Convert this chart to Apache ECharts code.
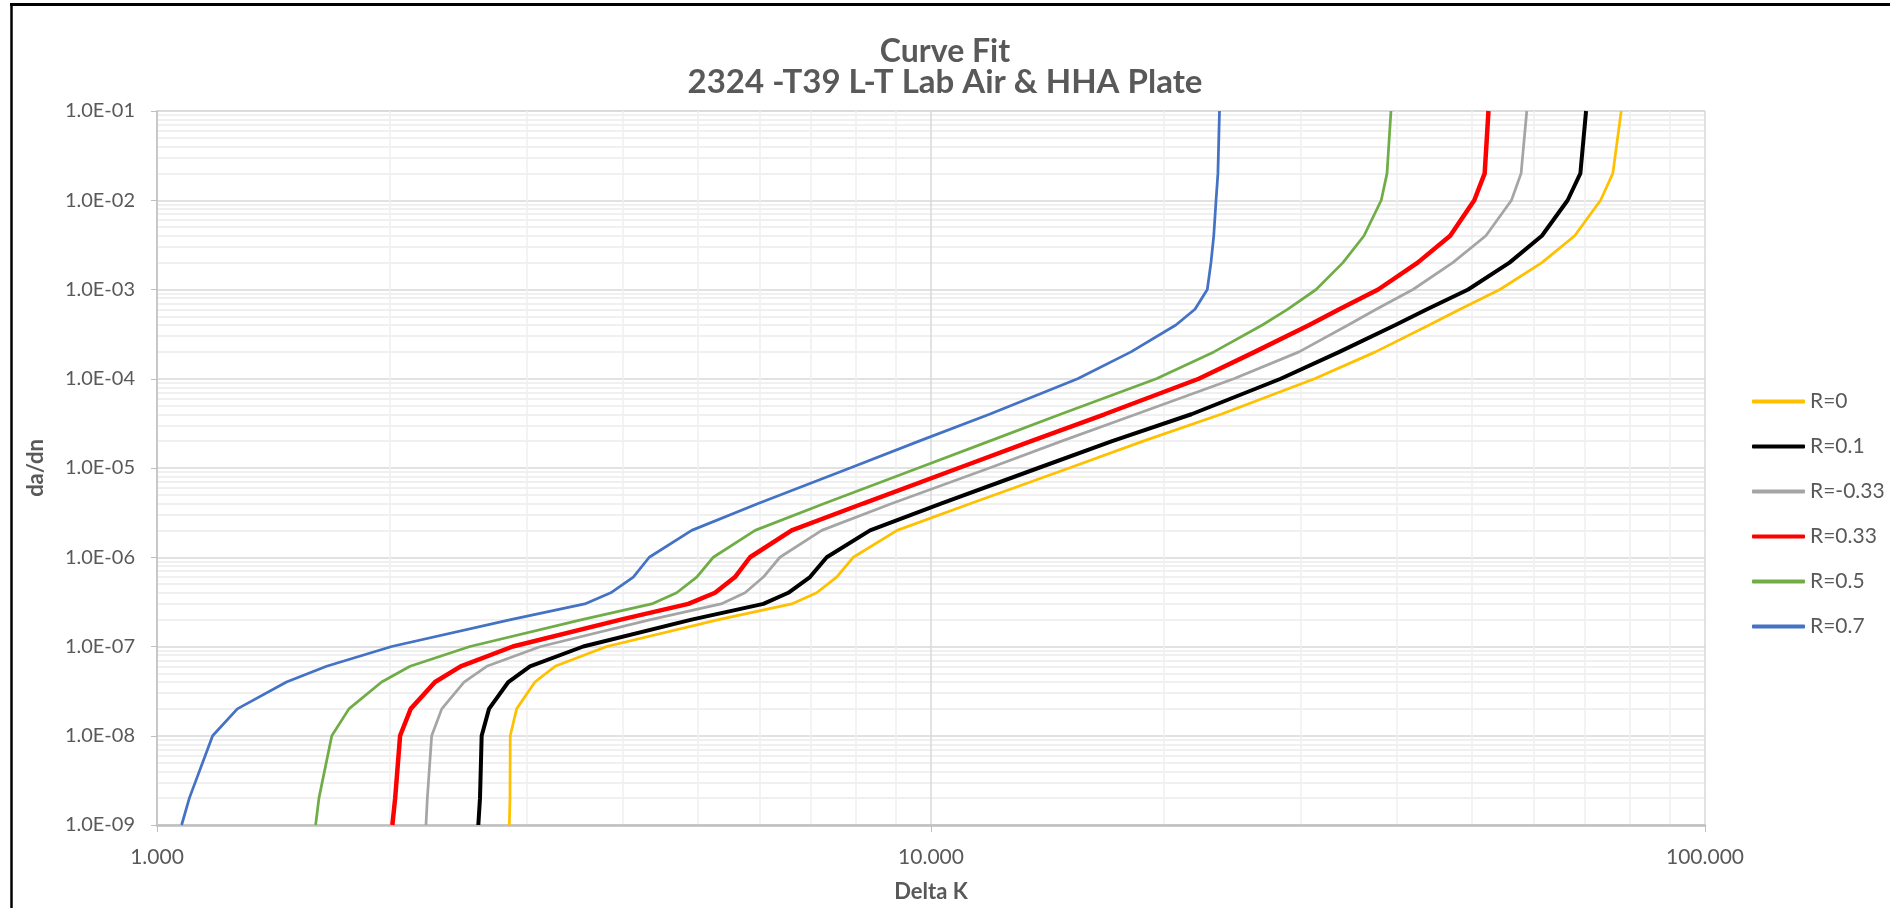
<!DOCTYPE html>
<html>
<head>
<meta charset="utf-8">
<script src="https://cdn.jsdelivr.net/npm/echarts@6/dist/echarts.min.js"></script>
<style>
html,body{margin:0;padding:0;background:#fff;}
#chart{width:1890px;height:908px;}
</style>
</head>
<body>
<div id="chart"></div>
<script>
// da/dn levels (y) shared by every curve
const dadn = [1e-9, 2e-9, 1e-8, 2e-8, 4e-8, 6e-8, 1e-7, 2e-7, 3e-7, 4e-7, 6e-7, 1e-6, 2e-6, 4e-6, 1e-5, 2e-5, 4e-5, 1e-4, 2e-4, 4e-4, 6e-4, 1e-3, 2e-3, 4e-3, 1e-2, 2e-2, 1e-1];

// Delta K values (x) for each R ratio
const dkR0    = [2.852, 2.858, 2.86, 2.915, 3.078, 3.268, 3.811, 5.316, 6.607, 7.117, 7.552, 7.937, 9.04, 11.25, 15.09, 18.8, 23.7, 31.3, 37.52, 44.02, 48.25, 54.33, 61.56, 67.86, 73.3, 76.02, 77.94];
const dkR01   = [2.601, 2.614, 2.627, 2.685, 2.844, 3.033, 3.554, 4.905, 6.073, 6.541, 6.977, 7.333, 8.342, 10.3, 13.76, 17.14, 21.7, 28.3, 33.7, 39.81, 43.74, 49.44, 55.9, 61.56, 66.46, 69.02, 70.2];
const dkRm033 = [2.226, 2.235, 2.264, 2.333, 2.493, 2.667, 3.131, 4.343, 5.355, 5.751, 6.073, 6.38, 7.224, 8.9, 11.9, 14.75, 18.4, 24.62, 29.89, 34.59, 37.61, 41.95, 47.22, 52.11, 56.23, 57.86, 58.85];
const dkR033  = [2.014, 2.031, 2.061, 2.127, 2.287, 2.468, 2.882, 3.973, 4.858, 5.26, 5.582, 5.837, 6.607, 8.17, 10.86, 13.47, 16.76, 22.18, 26.2, 30.81, 33.69, 37.82, 42.54, 46.86, 50.34, 51.92, 52.51];
const dkR05   = [1.603, 1.619, 1.682, 1.77, 1.951, 2.123, 2.537, 3.54, 4.357, 4.693, 4.981, 5.233, 5.926, 7.28, 9.63, 11.9, 14.7, 19.55, 23.2, 26.8, 28.88, 31.45, 34.06, 36.26, 38.17, 38.83, 39.29];
const dkR07   = [1.076, 1.101, 1.18, 1.27, 1.47, 1.656, 2.01, 2.864, 3.57, 3.857, 4.125, 4.325, 4.907, 5.98, 7.86, 9.65, 11.9, 15.47, 18.13, 20.72, 21.93, 22.75, 23.0, 23.19, 23.35, 23.48, 23.59];

const seriesNames = ['R=0', 'R=0.1', 'R=-0.33', 'R=0.33', 'R=0.5', 'R=0.7'];
const seriesData = [dkR0, dkR01, dkRm033, dkR033, dkR05, dkR07];
const seriesColors = ['#FFC000', '#000000', '#A5A5A5', '#FF0000', '#70AD47', '#4472C4'];
const seriesWidths = [2.75, 4, 2.75, 4.5, 2.75, 2.75];

const titleText = 'Curve Fit';
const subTitleText = '2324 -T39 L-T Lab Air & HHA Plate';
const xName = 'Delta K';
const yName = 'da/dn';

const FONT = 'Lato, "Open Sans", sans-serif';
const GREY = '#595959';

function fmtY(v) {
  const e = Math.round(Math.log10(v));
  const m = v / Math.pow(10, e);
  const sign = e < 0 ? '-' : '+';
  const ae = Math.abs(e);
  return m.toFixed(1) + 'E' + sign + (ae < 10 ? '0' + ae : '' + ae);
}

const series = seriesNames.map((name, i) => ({
  name: name,
  type: 'line',
  symbol: 'none',
  showSymbol: false,
  z: 3,
  lineStyle: { color: seriesColors[i], width: seriesWidths[i] },
  itemStyle: { color: seriesColors[i] },
  data: seriesData[i].map((x, j) => [x, dadn[j]])
}));

const chart = echarts.init(document.getElementById('chart'), null, { renderer: 'canvas' });
chart.setOption({
  animation: false,
  backgroundColor: '#ffffff',
  textStyle: { fontFamily: FONT },
  title: [
    { text: titleText, left: 'center', top: 31, textStyle: { fontFamily: FONT, fontSize: 32, fontWeight: 'bold', color: GREY } },
    { text: subTitleText, left: 'center', top: 61, textStyle: { fontFamily: FONT, fontSize: 33, fontWeight: 'bold', color: GREY } }
  ],
  graphic: [
    { type: 'line', shape: { x1: 10, y1: 4.5, x2: 1890, y2: 4.5 }, style: { stroke: '#000', lineWidth: 3 }, silent: true },
    { type: 'line', shape: { x1: 11.5, y1: 3, x2: 11.5, y2: 908 }, style: { stroke: '#000', lineWidth: 2.5 }, silent: true }
  ],
  legend: {
    data: seriesNames.map(n => ({ name: n, icon: 'roundRect' })),
    orient: 'vertical',
    left: 1747,
    top: 386,
    itemWidth: 53,
    itemHeight: 4,
    itemGap: 24,
    textStyle: { fontFamily: FONT, fontSize: 21, color: GREY }
  },
  grid: { left: 157, right: 185, top: 111, bottom: 76, containLabel: false },
  xAxis: {
    type: 'log',
    logBase: 10,
    min: 1,
    max: 100,
    splitNumber: 2,
    name: xName,
    nameLocation: 'middle',
    nameGap: 56,
    nameTextStyle: { fontFamily: FONT, fontSize: 22, fontWeight: 'bold', color: GREY },
    axisLine: { show: true, lineStyle: { color: '#BFBFBF', width: 2.5 } },
    axisTick: { show: true, inside: false, length: 7, lineStyle: { color: '#BFBFBF', width: 1 } },
    axisLabel: { margin: 22, fontFamily: FONT, fontSize: 21, color: GREY, formatter: v => v.toFixed(3) },
    splitLine: { show: true, lineStyle: { color: '#D9D9D9', width: 1.5 } },
    minorTick: { show: false, splitNumber: 9 },
    minorSplitLine: { show: true, lineStyle: { color: '#F0F0F0', width: 1.5 } }
  },
  yAxis: {
    type: 'log',
    logBase: 10,
    min: 1e-9,
    max: 1e-1,
    splitNumber: 8,
    name: yName,
    nameLocation: 'middle',
    nameRotate: 90,
    nameGap: 110,
    nameTextStyle: { fontFamily: FONT, fontSize: 22, fontWeight: 'bold', color: GREY },
    axisLine: { show: true, lineStyle: { color: '#BFBFBF', width: 1.5 } },
    axisTick: { show: true, inside: false, length: 6, lineStyle: { color: '#BFBFBF', width: 1 } },
    axisLabel: { margin: 22, fontFamily: FONT, fontSize: 20, color: GREY, formatter: v => fmtY(v) },
    splitLine: { show: true, lineStyle: { color: '#D9D9D9', width: 1.5 } },
    minorTick: { show: false, splitNumber: 9 },
    minorSplitLine: { show: true, lineStyle: { color: '#ECECEC', width: 1.5 } }
  },
  series: series
});
</script>
</body>
</html>
